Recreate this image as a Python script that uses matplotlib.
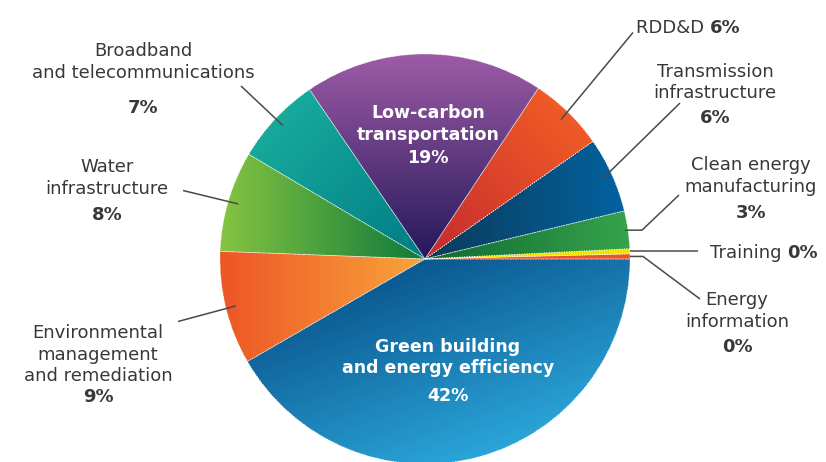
import numpy as np
import matplotlib.pyplot as plt
from matplotlib.colors import LinearSegmentedColormap

plt.rcParams['font.family'] = ['DejaVu Sans']

# slices, counterclockwise from 3 o'clock
names = ['Energy\ninformation', 'Training', 'Clean energy\nmanufacturing',
         'Transmission\ninfrastructure', 'RDD&D', 'Low-carbon\ntransportation',
         'Broadband\nand telecommunications', 'Water\ninfrastructure',
         'Environmental\nmanagement\nand remediation',
         'Green building\nand energy efficiency']
values = [0.4, 0.4, 3, 6, 6, 19, 7, 8, 9, 42]
pct_labels = ['0%', '0%', '3%', '6%', '6%', '19%', '7%', '8%', '9%', '42%']

# gradient colours (start, end, direction in degrees)
grads = [('#e9552a', '#e9552a', 0),
         ('#f3e400', '#f3e400', 0),
         ('#0f6a33', '#37a34b', 0),
         ('#0b3a58', '#0362a0', 0),
         ('#c52a2f', '#ef5b26', 45),
         ('#24185a', '#9d5ba6', 90),
         ('#007c86', '#17aa9b', 135),
         ('#0f7a3b', '#84c441', 180),
         ('#ee5526', '#f8a53b', 0),
         ('#0b5890', '#2ba6da', -70)]

W, H = 826, 462
cx, cy, R = 425, H - 259, 205

fig = plt.figure(figsize=(8.26, 4.62), dpi=100)
ax = fig.add_axes([0, 0, 1, 1])

wedges, _ = ax.pie(values, startangle=0, counterclock=True,
                   center=(cx, cy), radius=R, frame=True,
                   wedgeprops=dict(linewidth=0))
ax.set_xlim(0, W)
ax.set_ylim(0, H)
ax.set_aspect('equal')
ax.axis('off')

xs = np.linspace(cx - R, cx + R, 400)
ys = np.linspace(cy - R, cy + R, 400)
X, Y = np.meshgrid(xs, ys)
for w, (c1, c2, ang) in zip(wedges, grads):
    a = np.deg2rad(ang)
    t = (X - cx) * np.cos(a) + (Y - cy) * np.sin(a)
    pts = w.get_patch_transform().transform(w.get_path().vertices)
    tp = (pts[:, 0] - cx) * np.cos(a) + (pts[:, 1] - cy) * np.sin(a)
    cmap = LinearSegmentedColormap.from_list('g', [c1, c2])
    im = ax.imshow(t, cmap=cmap, vmin=tp.min(), vmax=tp.max(),
                   extent=[cx - R, cx + R, cy - R, cy + R], origin='lower',
                   interpolation='bilinear', zorder=2)
    im.set_clip_path(w)
    w.set_facecolor('none')
    w.set_edgecolor('white')
    w.set_linewidth(0.6)
    w.set_linestyle((0, (1, 2)))
    w.set_zorder(3)

txt = '#383838'
lc = '#4a4a4a'
fs = 13
pitch = 21.8


def mid_point(w, r=0.95):
    th = np.deg2rad((w.theta1 + w.theta2) / 2)
    return cx + r * R * np.cos(th), cy + r * R * np.sin(th)


def leader(start, pts):
    xs_ = [start[0]] + [p[0] for p in pts]
    ys_ = [start[1]] + [H - p[1] for p in pts]
    ax.plot(xs_, ys_, color=lc, lw=1.1, zorder=4, solid_capstyle='butt')


def block(i, x, base, pbase, color=txt, weight='normal', size=fs):
    for k, line in enumerate(names[i].split('\n')):
        ax.text(x, H - (base + k * pitch), line, ha='center', va='baseline',
                fontsize=size, color=color, fontweight=weight, zorder=5)
    ax.text(x, H - pbase, pct_labels[i], ha='center', va='baseline',
            fontsize=size, color=color, fontweight='bold', zorder=5)


def inline(i, x, base):
    ax.text(x, H - base, names[i] + ' ', ha='right', va='baseline',
            fontsize=fs, color=txt, zorder=5)
    ax.text(x, H - base, pct_labels[i], ha='left', va='baseline',
            fontsize=fs, color=txt, fontweight='bold', zorder=5)


# outside labels with leaders
block(6, 143, 56, 113)
leader(mid_point(wedges[6]), [(241, 86)])
block(7, 107, 171.7, 220)
leader(mid_point(wedges[7]), [(183, 190.5)])
block(8, 98, 337.7, 401.7)
leader(mid_point(wedges[8]), [(178, 321.5)])
block(3, 715, 76.7, 123.3)
leader(mid_point(wedges[3]), [(680, 103)])
block(2, 751, 170, 218.3)
p2 = mid_point(wedges[2], 0.985)
leader(p2, [(642, H - p2[1]), (679, 195)])
block(0, 737, 305, 351.7)
p0 = mid_point(wedges[0], 1.0)
leader(p0, [(643, H - p0[1]), (700, 299)])

inline(4, 710, 33.3)
leader(mid_point(wedges[4]), [(633, 32.5)])
inline(1, 787, 258)
p1 = mid_point(wedges[1], 1.0)
leader(p1, [(698, H - p1[1])])

# inside labels
block(5, 428, 118.3, 163, color='white', weight='bold', size=12.5)
block(9, 448, 351.5, 401, color='white', weight='bold', size=12.5)

fig.savefig('out.png', dpi=100)
